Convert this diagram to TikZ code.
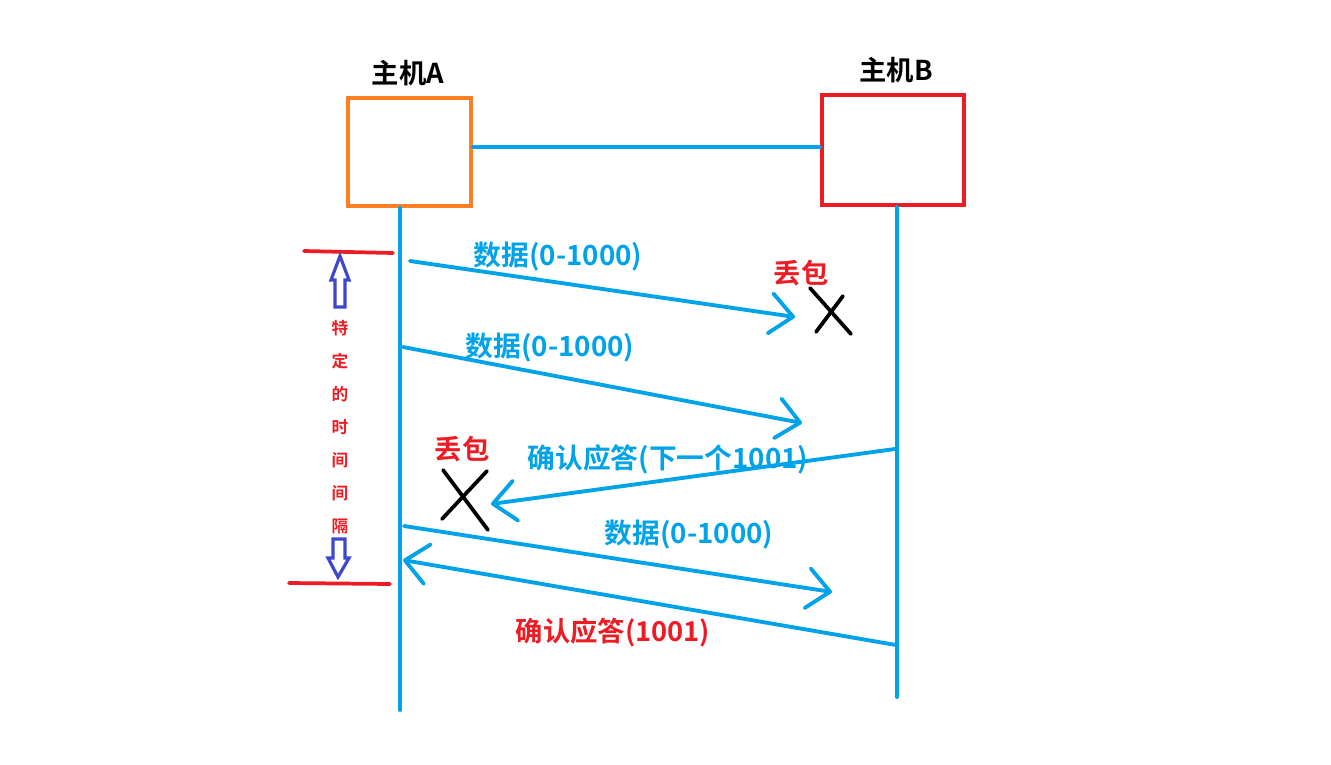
\documentclass[tikz,border=0pt]{standalone}
\usepackage{fontspec}
\setmainfont{Noto Sans CJK SC}[BoldFont={* Bold}]
\newfontfamily\cjkb{Noto Sans CJK SC Bold}
\usetikzlibrary{arrows.meta}
\definecolor{lblue}{HTML}{00A2E8}
\definecolor{lred}{HTML}{ED1C24}
\definecolor{lorange}{HTML}{FF7F27}
\definecolor{lindigo}{HTML}{3F48CC}
\tikzset{
  hostbox/.style={draw, line width=3pt, inner sep=0pt},
  link/.style={draw=lblue, line width=3pt, line cap=round},
  msg/.style={draw=lblue, line width=2.9pt, line cap=round,
    -{Straight Barb[length=17pt,width=30pt,round]}},
  msglabel/.style={font=\cjkb\fontsize{20.8}{24}\selectfont, text=lblue, inner sep=0pt},
  redlabel/.style={font=\cjkb\fontsize{20.5}{24}\selectfont, text=lred, inner sep=0pt},
  hostlabel/.style={font=\cjkb\fontsize{20.5}{24}\selectfont, text=black, inner sep=0pt},
  vlabel/.style={font=\cjkb\fontsize{12.5}{14}\selectfont, text=lred, inner sep=0pt},
  cross/.style={draw=black, line width=2.8pt, line cap=round},
  marker/.style={draw=lred, line width=2.8pt, line cap=round},
  hollow/.style={draw=lindigo, line width=2.4pt, fill=white, line join=miter}
}
\begin{document}
\begin{tikzpicture}[x=0.75pt,y=-0.75pt]
\useasboundingbox (0,0) rectangle (1331,764);
% hosts
\node[hostbox, draw=lorange, minimum width=92.25pt, minimum height=81pt] (A) at (409.5,152) {};
\node[hostbox, draw=lred, minimum width=106.5pt, minimum height=82.5pt] (B) at (893,150) {};
\node[hostlabel] (Alab) at (408,73) {主机A};
\node[hostlabel] (Blab) at (896,70) {主机B};
\draw[link] ([yshift=3.75pt]A.east) -- ([yshift=2.25pt]B.west);
% lifelines
\coordinate (Aend) at (400,710);
\coordinate (Bend) at (897,697);
\draw[link] (A.south -| Aend) -- (Aend);
\draw[link] (B.south -| Bend) -- (Bend);
% message points
\coordinate (m1s) at (410,261); \coordinate (m1e) at (795,317);
\coordinate (m2s) at (403,347); \coordinate (m2e) at (802,423);
\coordinate (m3s) at (895,449); \coordinate (m3e) at (491,504);
\coordinate (m4s) at (404,526); \coordinate (m4e) at (832,592);
\coordinate (m5s) at (896,645); \coordinate (m5e) at (403,560);
\draw[msg] (m1s) -- (m1e);
\draw[msg] (m2s) -- (m2e);
\draw[msg] (m3s) -- (m3e);
\draw[msg] (m4s) -- (m4e);
\draw[msg] (m5s) -- (m5e);
% labels
\node[msglabel] (l1) at (558,257) {数据(0-1000)};
\node[msglabel] (l2) at (550,348) {数据(0-1000)};
\node[msglabel] (l3) at (668,459) {确认应答(下一个1001)};
\node[msglabel] (l4) at (689,535) {数据(0-1000)};
\node[redlabel] (l5) at (613,632) {确认应答(1001)};
\node[redlabel] (lost1) at (801,273) {丢包};
\node[redlabel] (lost2) at (462,449) {丢包};
% crosses
\draw[cross] (810,288) -- (851,334);
\draw[cross] (843,296) -- (816,332);
\draw[cross] (443,470) -- (488,530);
\draw[cross] (442,519) -- (487,471);
% interval markers
\draw[marker] (304,251) -- (393,253);
\draw[marker] (289,583) -- (390,584);
\draw[hollow] (340,256) -- (349,280) -- (345,280) -- (345,307) -- (335,307) -- (335,280) -- (331,280) -- cycle;
\draw[hollow] (338,577) -- (349,558) -- (345,558) -- (345,539) -- (333,539) -- (333,558) -- (328,558) -- cycle;
\foreach \c [count=\i] in {特,定,的,时,间,间,隔} {
  \node[vlabel] (v\i) at (340,{328+33*(\i-1)}) {\c};
}
\end{tikzpicture}
\end{document}
